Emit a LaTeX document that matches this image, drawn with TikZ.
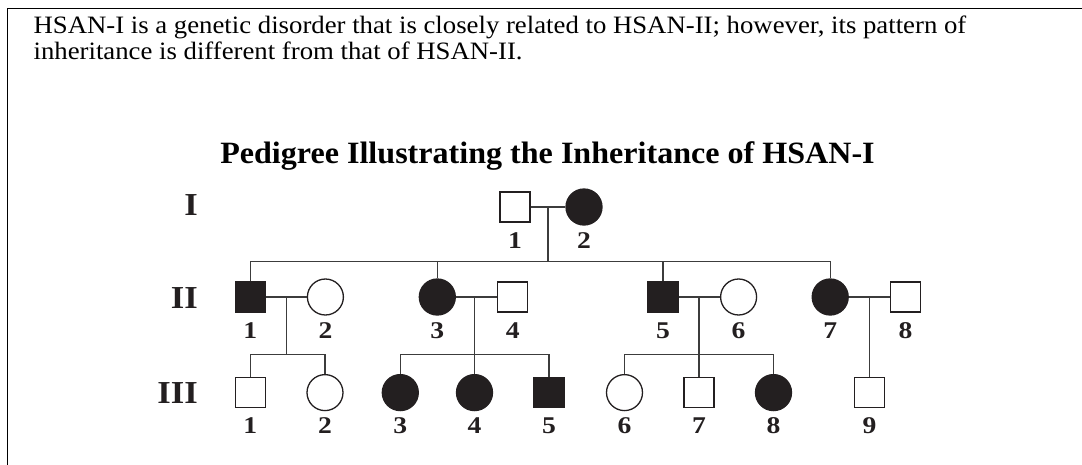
\documentclass[tikz,border=0pt]{standalone}
\usepackage{fontspec}
\setmainfont{Liberation Serif}
\newfontfamily\introfont[FakeStretch=1.07]{Liberation Serif}
\newfontfamily\headfont[FakeStretch=1.035]{Liberation Serif}
\newfontfamily\numfont[FakeStretch=1.15]{Liberation Serif}
\newfontfamily\genfont[FakeStretch=1.08]{Liberation Serif}
\usetikzlibrary{calc}
\definecolor{ink}{RGB}{35,31,32}
\definecolor{linec}{RGB}{60,60,60}
\begin{document}
\begin{tikzpicture}[x=1pt,y=-1pt,
  male/.style={rectangle, draw=ink, line width=1.3pt, minimum size=30pt, inner sep=0pt, fill=white},
  female/.style={circle, draw=ink, line width=1.3pt, minimum size=36pt, inner sep=0pt, fill=white},
  aff/.style={fill=ink},
  link/.style={draw=linec, line width=1.1pt},
  num/.style={font=\numfont\fontsize{24}{24}\selectfont\bfseries, text=ink, inner sep=0pt, anchor=base},
  gen/.style={font=\genfont\fontsize{32}{32}\selectfont\bfseries, text=ink, inner sep=0pt, anchor=base east},
  frame/.style={draw=black, line width=1.4pt}]
\useasboundingbox (0,0) rectangle (1082,464);

% frame edges
\coordinate (fr-a) at (7.6,470);
\coordinate (fr-b) at (7.6,8.3);
\coordinate (fr-c) at (1090,8.3);
\draw[frame] (fr-a) -- (fr-b) -- (fr-c);

% introductory text
\node[anchor=base west, inner sep=0pt, align=left,
      font=\introfont\fontsize{25}{26}\selectfont] (intro) at (33.4,59.5)
  {HSAN-I is a genetic disorder that is closely related to HSAN-II; however, its pattern of\\
   inheritance is different from that of HSAN-II.};

% heading
\node[anchor=base, inner sep=0pt, font=\headfont\fontsize{31}{31}\selectfont\bfseries] (title)
  at (547.5,163) {Pedigree Illustrating the Inheritance of HSAN-I};

% generation labels
\node[gen] (gI)   at (198,215.5) {I};
\node[gen] (gII)  at (198,308.5) {II};
\node[gen] (gIII) at (198,403.5) {III};

% generation I
\node[male]       (I1) at (515,207) {};
\node[female,aff] (I2) at (584,207) {};

% generation II
\node[male,aff]   (II1) at (250.2,297) {};
\node[female]     (II2) at (325.4,297) {};
\node[female,aff] (II3) at (437.3,297) {};
\node[male]       (II4) at (512.7,297) {};
\node[male,aff]   (II5) at (663,297) {};
\node[female]     (II6) at (738.6,297) {};
\node[female,aff] (II7) at (830.2,297) {};
\node[male]       (II8) at (905.5,297) {};

% generation III
\node[male]       (III1) at (250.2,392.6) {};
\node[female]     (III2) at (325,392.6) {};
\node[female,aff] (III3) at (400.3,392.6) {};
\node[female,aff] (III4) at (474.5,392.6) {};
\node[male,aff]   (III5) at (549,392.6) {};
\node[female]     (III6) at (624.5,392.6) {};
\node[male]       (III7) at (699,392.6) {};
\node[female,aff] (III8) at (773.5,392.6) {};
\node[male]       (III9) at (869.4,392.6) {};

% individual numbers
\foreach \p/\t in {I1/1,I2/2,
                   II1/1,II2/2,II3/3,II4/4,II5/5,II6/6,II7/7,II8/8,
                   III1/1,III2/2,III3/3,III4/4,III5/5,III6/6,III7/7,III8/8,III9/9}
  \node[num] (n-\p) at ([yshift=-41pt]\p.center) {\t};

% sibship line heights
\coordinate (sibII)  at (0,261.3);
\coordinate (sibIII) at (0,354.5);

% generation I mating and offspring
\draw[link] (I1.east) -- (I2.west);
\coordinate (mI) at ($(I1.east)!0.5!(I2.west)$);
\draw[link] (mI) -- (mI |- sibII);
\draw[link] (II1.north) -- (II1 |- sibII) -- (II7 |- sibII) -- (II7.north);
\draw[link] (II3 |- sibII) -- (II3.north);
\draw[link] (II5 |- sibII) -- (II5.north);

% II-1 x II-2
\draw[link] (II1.east) -- (II2.west);
\coordinate (m12) at ($(II1.east)!0.5!(II2.west)$);
\draw[link] (m12) -- (m12 |- sibIII);
\draw[link] (III1.north) -- (III1 |- sibIII) -- (III2 |- sibIII) -- (III2.north);

% II-3 x II-4
\draw[link] (II3.east) -- (II4.west);
\draw[link] (III4 |- II3.east) -- (III4.north);
\draw[link] (III3.north) -- (III3 |- sibIII) -- (III5 |- sibIII) -- (III5.north);

% II-5 x II-6
\draw[link] (II5.east) -- (II6.west);
\draw[link] (III7 |- II5.east) -- (III7.north);
\draw[link] (III6.north) -- (III6 |- sibIII) -- (III8 |- sibIII) -- (III8.north);

% II-7 x II-8
\draw[link] (II7.east) -- (II8.west);
\draw[link] (III9 |- II7.east) -- (III9.north);
\end{tikzpicture}
\end{document}
